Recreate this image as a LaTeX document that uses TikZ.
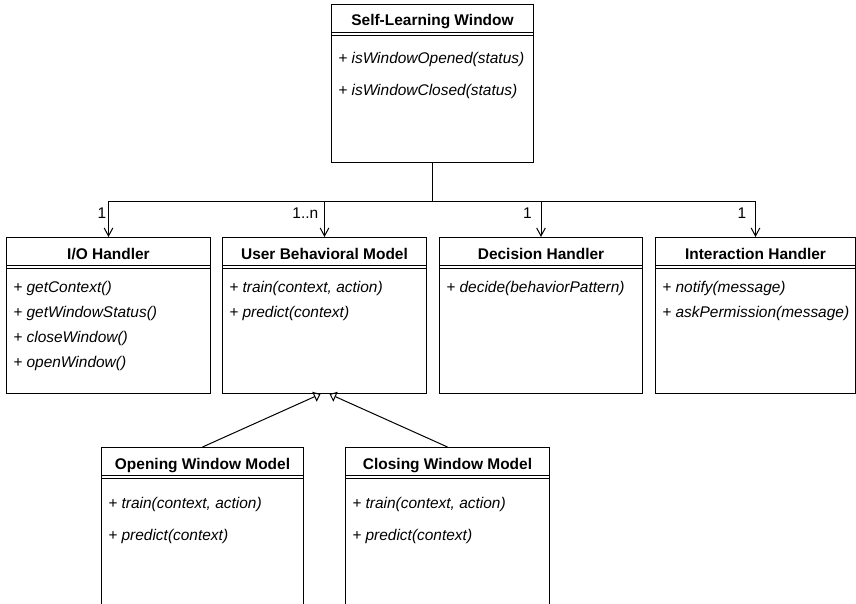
\documentclass[tikz,border=0pt]{standalone}
\usepackage{fontspec}
\setmainfont{Liberation Sans}
\usetikzlibrary{arrows.meta,calc}

\tikzset{
  umlbox/.style={draw=black, line width=0.75pt, inner sep=0pt, anchor=north west},
  hdr/.style={font=\fontsize{11.6}{14}\selectfont\bfseries, anchor=base, inner sep=0pt},
  meth/.style={font=\fontsize{11.6}{14}\selectfont\itshape, anchor=base west, inner sep=0pt},
  mult/.style={font=\fontsize{11.6}{14}\selectfont, anchor=base east, inner sep=0pt},
  rule/.style={line width=0.75pt},
  assoc/.style={line width=0.75pt, -{Straight Barb[length=6pt,width=6.5pt,line width=0.75pt]}},
  inh/.style={line width=0.75pt, -{Triangle[open,length=5pt,width=8pt,line width=0.75pt]}},
}

\begin{document}
\begin{tikzpicture}[x=0.75pt, y=-0.75pt]
  \clip (0,0) rectangle (856,603);
  \fill[white] (0,0) rectangle (856,603);

  % class boxes
  \node[umlbox, minimum width=151.5pt, minimum height=118.5pt] (slw) at (331,4) {};
  \node[umlbox, minimum width=153pt,   minimum height=117pt]   (io)  at (6,237) {};
  \node[umlbox, minimum width=153pt,   minimum height=117pt]   (ubm) at (222,237) {};
  \node[umlbox, minimum width=152.25pt,minimum height=117pt]   (dh)  at (439,237) {};
  \node[umlbox, minimum width=150pt,   minimum height=117pt]   (ih)  at (655,237) {};
  \node[umlbox, minimum width=151.5pt, minimum height=150pt]   (owm) at (101,447) {};
  \node[umlbox, minimum width=153pt,   minimum height=150pt]   (cwm) at (345,447) {};

  % header separators (double rule under each class name)
  \foreach \b in {slw,io,ubm,dh,ih,owm,cwm}{
    \draw[rule] ($(\b.north west)+(0,28)$) -- ($(\b.north east)+(0,28)$);
    \draw[rule] ($(\b.north west)+(0,31)$) -- ($(\b.north east)+(0,31)$);
  }

  % class names
  \node[hdr] (slwT) at ($(slw.north)+(0,22)$) {Self-Learning Window};
  \node[hdr] (ioT)  at ($(io.north)+(0,22)$)  {I/O Handler};
  \node[hdr] (ubmT) at ($(ubm.north)+(0,22)$) {User Behavioral Model};
  \node[hdr] (dhT)  at ($(dh.north)+(0,22)$)  {Decision Handler};
  \node[hdr] (ihT)  at ($(ih.north)+(0,22)$)  {Interaction Handler};
  \node[hdr] (owmT) at ($(owm.north)+(0,22)$) {Opening Window Model};
  \node[hdr] (cwmT) at ($(cwm.north)+(0,22)$) {Closing Window Model};

  % operations
  \node[meth] (slw1) at ($(slw.north west)+(7,59)$) {+ isWindowOpened(status)};
  \node[meth] (slw2) at ($(slw.north west)+(7,91)$) {+ isWindowClosed(status)};

  \node[meth] (io1) at ($(io.north west)+(7,55)$)  {+ getContext()};
  \node[meth] (io2) at ($(io.north west)+(7,80)$)  {+ getWindowStatus()};
  \node[meth] (io3) at ($(io.north west)+(7,105)$) {+ closeWindow()};
  \node[meth] (io4) at ($(io.north west)+(7,130)$) {+ openWindow()};

  \node[meth] (ubm1) at ($(ubm.north west)+(7,55)$) {+ train(context, action)};
  \node[meth] (ubm2) at ($(ubm.north west)+(7,80)$) {+ predict(context)};

  \node[meth] (dh1) at ($(dh.north west)+(7,55)$) {+ decide(behaviorPattern)};

  \node[meth] (ih1) at ($(ih.north west)+(7,55)$) {+ notify(message)};
  \node[meth] (ih2) at ($(ih.north west)+(7,80)$) {+ askPermission(message)};

  \node[meth] (owm1) at ($(owm.north west)+(7,61)$) {+ train(context, action)};
  \node[meth] (owm2) at ($(owm.north west)+(7,93)$) {+ predict(context)};

  \node[meth] (cwm1) at ($(cwm.north west)+(7,61)$) {+ train(context, action)};
  \node[meth] (cwm2) at ($(cwm.north west)+(7,93)$) {+ predict(context)};

  % associations from the main window
  \draw[assoc] (slw.south) -- ++(0,38) -| (io.north);
  \draw[assoc] (slw.south) -- ++(0,38) -| (ubm.north);
  \draw[assoc] (slw.south) -- ++(0,38) -| (dh.north);
  \draw[assoc] (slw.south) -- ++(0,38) -| (ih.north);

  % multiplicities
  \node[mult] (m1) at ($(io.north)+(-2,-19)$)  {1};
  \node[mult] (m2) at ($(ubm.north)+(-6,-19)$) {1..n};
  \node[mult] (m3) at ($(dh.north)+(-9,-19)$)  {1};
  \node[mult] (m4) at ($(ih.north)+(-9,-19)$)  {1};

  % generalisations
  \draw[inh] (owm.north) -- ([xshift=-3pt]ubm.south);
  \draw[inh] (cwm.north) -- ([xshift=3.75pt]ubm.south);
\end{tikzpicture}
\end{document}
